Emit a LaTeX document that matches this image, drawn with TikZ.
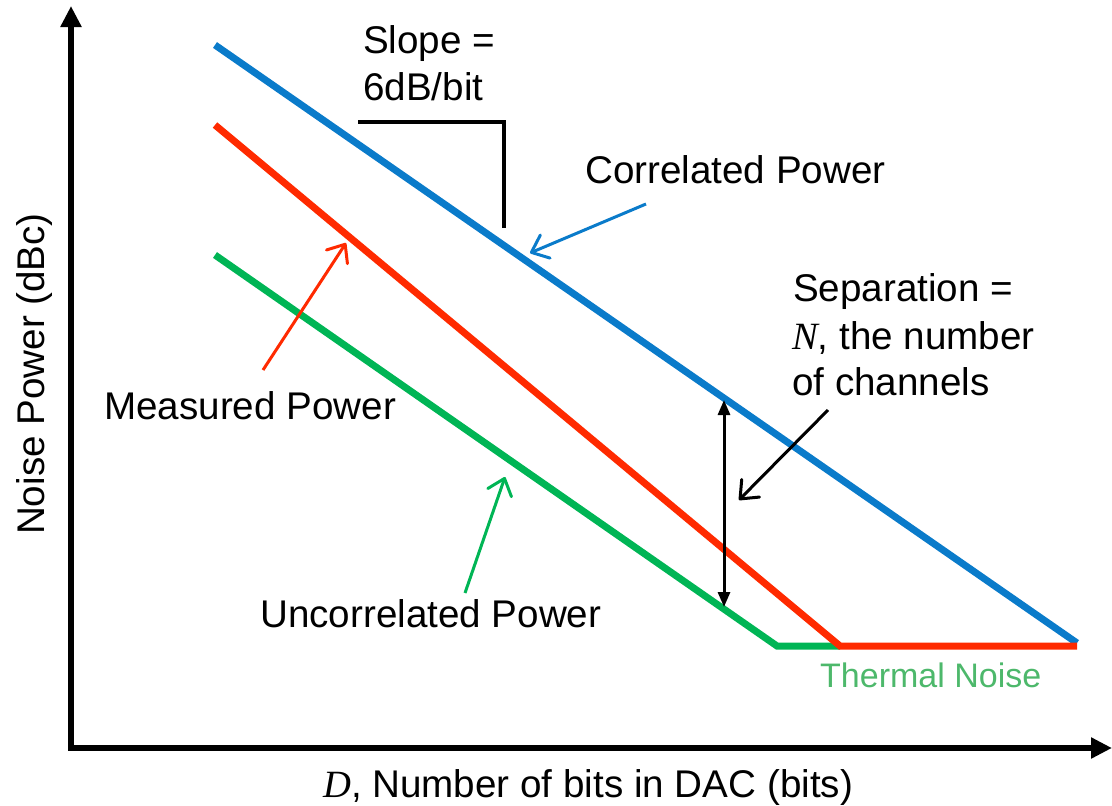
\documentclass[tikz,border=0pt]{standalone}
\usepackage{fontspec}
\setmainfont{Liberation Sans}
\newfontfamily\timesfont{Liberation Serif}
\usetikzlibrary{arrows.meta}

\definecolor{corrblue}{HTML}{0A7BCA}
\definecolor{measred}{HTML}{FF2A00}
\definecolor{uncgreen}{HTML}{00B555}
\definecolor{thermgreen}{HTML}{4DB86B}

\tikzset{
  axis/.style={line width=6pt, -{Triangle[length=21pt,width=20pt]}},
  curve/.style={line width=7pt, line cap=butt, line join=miter},
  pointer/.style={line width=3pt, -{Straight Barb[length=15pt,width=25pt,line width=3pt,round]}},
  label/.style={inner sep=0pt, anchor=base west, font=\fontsize{38.6}{47}\selectfont},
  small/.style={inner sep=0pt, anchor=base west, font=\fontsize{34}{40}\selectfont},
}

\begin{document}
\begin{tikzpicture}[x=1pt, y=-1pt]
  \useasboundingbox (0,0) rectangle (1112,806);

  % axes
  \coordinate (origin) at (71,748);
  \coordinate (ytop) at (71,6);
  \coordinate (xend) at (1112,748);
  \draw[axis] ([yshift=3pt]origin) -- (ytop);
  \draw[axis] ([xshift=-3pt]origin) -- (xend);

  % noise curves
  \coordinate (b0) at (215,45);
  \coordinate (b1) at (1077,643);
  \coordinate (g0) at (215,255);
  \coordinate (g1) at (777,646);
  \coordinate (g2) at (840,646);
  \coordinate (r0) at (215,125);
  \coordinate (r1) at (840,646);
  \coordinate (r2) at (1077,646);
  \draw[curve, corrblue] (b0) -- (b1);
  \draw[curve, uncgreen] (g0) -- (g1) -- (g2);
  \draw[curve, measred] (r0) -- (r1) -- (r2);

  % slope marker
  \coordinate (s0) at (358,122);
  \coordinate (s1) at (504,122);
  \coordinate (s2) at (504,228);
  \draw[line width=4pt] (s0) -- (s1) -- (s2);

  % separation between correlated and uncorrelated power
  \coordinate (sepTop) at (724,400);
  \coordinate (sepBot) at (724,607);
  \draw[line width=3pt, {Triangle[length=15pt,width=12pt]}-{Triangle[length=15pt,width=12pt]}] (sepTop) -- (sepBot);

  % labels
  \node[label] (slope1) at (363,53) {Slope =};
  \node[label] (slope2) at (363,100) {6dB/bit};
  \node[label] (corr) at (585,183) {Correlated Power};
  \node[label] (sep1) at (793,301) {Separation =};
  \node[label] (sep2) at (792,349) {{\timesfont\itshape N}, the number};
  \node[label] (sep3) at (792,395) {of channels};
  \node[label] (meas) at (104,419) {Measured Power};
  \node[label] (unc) at (260,627) {Uncorrelated Power};
  \node[small, text=thermgreen] (therm) at (820,687) {Thermal Noise};
  \node[label] (xlab) at (323,797) {{\timesfont\itshape D}, Number of bits in DAC (bits)};
  \node[inner sep=0pt, anchor=base, rotate=90, font=\fontsize{38.6}{47}\selectfont] (ylab) at (44,374) {Noise Power (dBc)};

  % pointers from labels to curves
  \coordinate (pc0) at (646,204);
  \coordinate (pc1) at (530,253);
  \coordinate (pm0) at (263,370);
  \coordinate (pm1) at (346,243);
  \coordinate (pu0) at (465,593);
  \coordinate (pu1) at (505,477);
  \coordinate (ps0) at (828,410);
  \coordinate (ps1) at (739,500);
  \draw[pointer, corrblue] (pc0) -- (pc1);
  \draw[pointer, measred] (pm0) -- (pm1);
  \draw[pointer, uncgreen] (pu0) -- (pu1);
  \draw[pointer, black] (ps0) -- (ps1);
\end{tikzpicture}
\end{document}
